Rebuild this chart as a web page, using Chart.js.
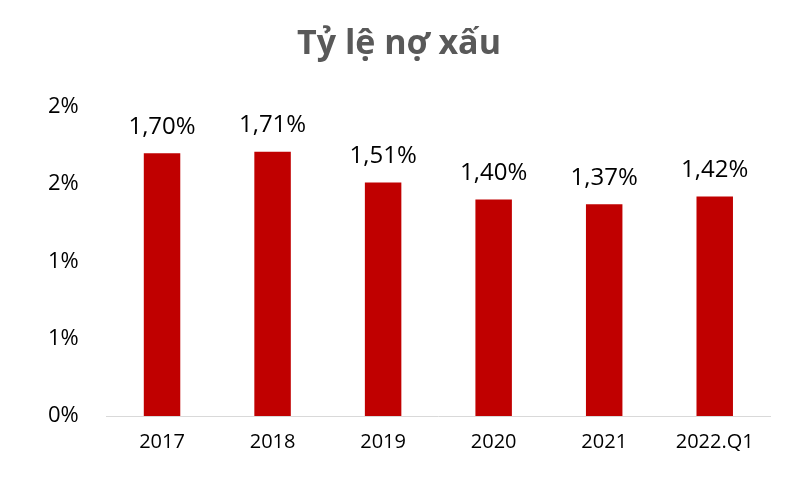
<!DOCTYPE html>
<html><head><meta charset="utf-8">
<script src="https://cdn.jsdelivr.net/npm/chart.js@4"></script>
<style>html,body{margin:0;background:#fff}#w{width:800px;height:500px}</style>
</head><body><div id="w"><canvas id="c"></canvas></div>
<script>
const categories = ["2017","2018","2019","2020","2021","2022.Q1"];
const values = [1.70,1.71,1.51,1.40,1.37,1.42];
const labelPlugin = {
  id:'lbl',
  afterDatasetsDraw(chart){
    const ctx=chart.ctx; const meta=chart.getDatasetMeta(0);
    ctx.save(); ctx.font='24px "Open Sans"'; ctx.fillStyle='#000';
    ctx.textAlign='center'; ctx.textBaseline='bottom';
    meta.data.forEach((b,i)=>{ctx.fillText(values[i].toFixed(2).replace('.',',')+'%', b.x, b.y-14);});
    ctx.restore();
  }
};
new Chart(document.getElementById('c'),{
  type:'bar',
  data:{labels:categories,datasets:[{data:values,backgroundColor:'#C00000',barPercentage:0.33,categoryPercentage:1}]},
  options:{responsive:true,maintainAspectRatio:false,animation:false,
    layout:{padding:{left:28,right:30,top:0,bottom:32}},
    plugins:{legend:{display:false},tooltip:{enabled:false},
      title:{display:true,text:'Tỷ lệ nợ xấu',color:'#595959',font:{family:'"Open Sans"',size:34,weight:'bold'},padding:{top:24,bottom:42}}},
    scales:{
      x:{grid:{display:false,drawTicks:false},border:{color:'#d9d9d9'},ticks:{color:'#000',font:{family:'"Open Sans"',size:20},padding:14}},
      y:{min:0,max:2,grid:{display:false},border:{display:false},
        ticks:{stepSize:0.5,color:'#000',font:{family:'"Open Sans"',size:22},padding:20,
          callback:v=>Math.round(v)+'%'}}
    }
  },
  plugins:[labelPlugin]
});
</script></body></html>
